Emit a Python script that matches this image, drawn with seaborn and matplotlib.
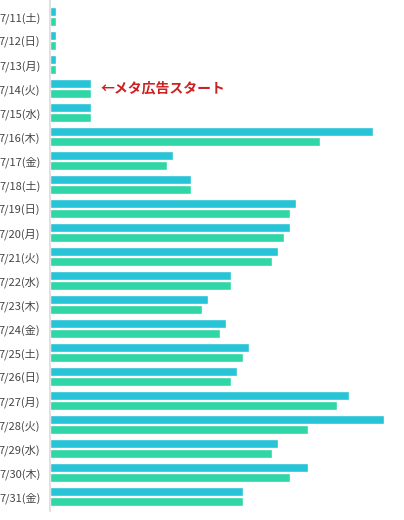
import matplotlib
matplotlib.use("Agg")
import matplotlib.pyplot as plt
import seaborn as sns
import pandas as pd

dates = ["7/11(土)","7/12(日)","7/13(月)","7/14(火)","7/15(水)","7/16(木)","7/17(金)","7/18(土)",
         "7/19(日)","7/20(月)","7/21(火)","7/22(水)","7/23(木)","7/24(金)","7/25(土)","7/26(日)",
         "7/27(月)","7/28(火)","7/29(水)","7/30(木)","7/31(金)"]
series_a = [6,6,6,41,41,323,123,141,246,240,228,181,158,176,199,187,299,334,228,258,193]
series_b = [6,6,6,41,41,270,117,141,240,234,222,181,152,170,193,181,287,258,222,240,193]

df = pd.DataFrame({"date": dates*2, "value": series_a+series_b,
                   "s": ["A"]*len(dates)+["B"]*len(dates)})

sns.set_theme(style="white")
plt.rcParams['font.family'] = ['Noto Sans CJK JP', 'DejaVu Sans']
fig = plt.figure(figsize=(4.04, 5.2), dpi=100)
ax = fig.add_axes([0.124, 0.017, 0.85, 0.983])
sns.barplot(data=df, y="date", x="value", hue="s", palette=["#27c3d6", "#2fd6a6"],
            ax=ax, width=0.85, gap=0.1, legend=False, saturation=1)
ax.set_xlim(0, 343)
ax.set_ylim(20.6, -0.7)
ax.set_xlabel(""); ax.set_ylabel("")
ax.set_xticks([])
for s in ["top", "right", "bottom"]:
    ax.spines[s].set_visible(False)
ax.spines["left"].set_color("#dddddd")
ax.tick_params(axis="y", length=0, labelsize=8, colors="#444444", pad=7)
ax.text(50, 3, "←メタ広告スタート", color="#cc2020", fontsize=10, fontweight="bold", va="center")
fig.savefig("out.png", dpi=100)
